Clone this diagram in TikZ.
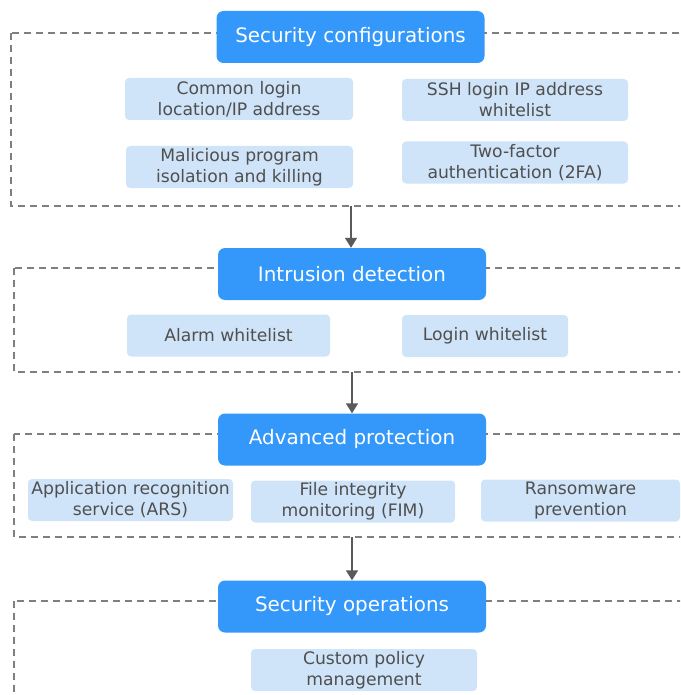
\documentclass[tikz,border=0pt]{standalone}
\usepackage{fontspec}
\setmainfont{DejaVu Sans}
\usetikzlibrary{arrows.meta}
\definecolor{hdrblue}{HTML}{3398FA}
\definecolor{itemblue}{HTML}{CFE4F8}
\definecolor{itemtext}{HTML}{4F4F4F}
\definecolor{framegray}{HTML}{7F7F7F}
\definecolor{arrowgray}{HTML}{5A5A5A}
\tikzset{
  header/.style={fill=hdrblue, rounded corners=7pt, text=white, font=\fontsize{19.9}{23}\selectfont,
    inner sep=0pt, minimum width=268pt, minimum height=52pt},
  item/.style={fill=itemblue, rounded corners=4pt, text=itemtext, align=center,
    font=\fontsize{17.2}{21}\selectfont, inner sep=0pt, minimum height=42pt},
  frame/.style={draw=framegray, line width=1.4pt, dash pattern=on 7pt off 5pt},
  flow/.style={draw=arrowgray, line width=1.5pt, -{Triangle[length=10pt,width=12pt]}}
}
\begin{document}
\begin{tikzpicture}[x=1pt, y=-1pt]
\useasboundingbox (0,0) rectangle (680,695);
\clip (0,0) rectangle (680,695);

% dashed section frames (open to the right)
\draw[frame] (11,33) rectangle (700,206);
\draw[frame] (14,268) rectangle (700,372);
\draw[frame] (14,434) rectangle (700,537);
\draw[frame] (14,601) rectangle (700,730);

% section headers
\node[header] (sec) at (350.5,37) {Security configurations};
\node[header] (ids) at (352,274) {Intrusion detection};
\node[header] (adv) at (352,439.5) {Advanced protection};
\node[header] (ops) at (352,606.5) {Security operations};

% security configuration items
\node[item, minimum width=228pt] (loc) at (239,99) {Common login\\location/IP address};
\node[item, minimum width=226pt] (ssh) at (515,100) {SSH login IP address\\whitelist};
\node[item, minimum width=227pt] (mal) at (239.5,167) {Malicious program\\isolation and killing};
\node[item, minimum width=226pt] (tfa) at (515,162.5) {Two-factor\\authentication (2FA)};

% intrusion detection items
\node[item, minimum width=203pt] (alarm) at (228.5,335.5) {Alarm whitelist};
\node[item, minimum width=166pt] (login) at (485,336) {Login whitelist};

% advanced protection items
\node[item, minimum width=205pt] (ars) at (130.5,500) {Application recognition\\service (ARS)};
\node[item, minimum width=204pt] (fim) at (353,501.5) {File integrity\\monitoring (FIM)};
\node[item, minimum width=199pt] (rans) at (580.5,500.5) {Ransomware\\prevention};

% security operations items
\node[item, minimum width=226pt] (pol) at (364,670) {Custom policy\\management};

% flow between sections
\coordinate (f1) at (351,206);
\coordinate (f2) at (352,372);
\coordinate (f3) at (352,537);
\draw[flow] (f1) -- (ids.north -| f1);
\draw[flow] (f2) -- (adv.north);
\draw[flow] (f3) -- (ops.north);
\end{tikzpicture}
\end{document}
